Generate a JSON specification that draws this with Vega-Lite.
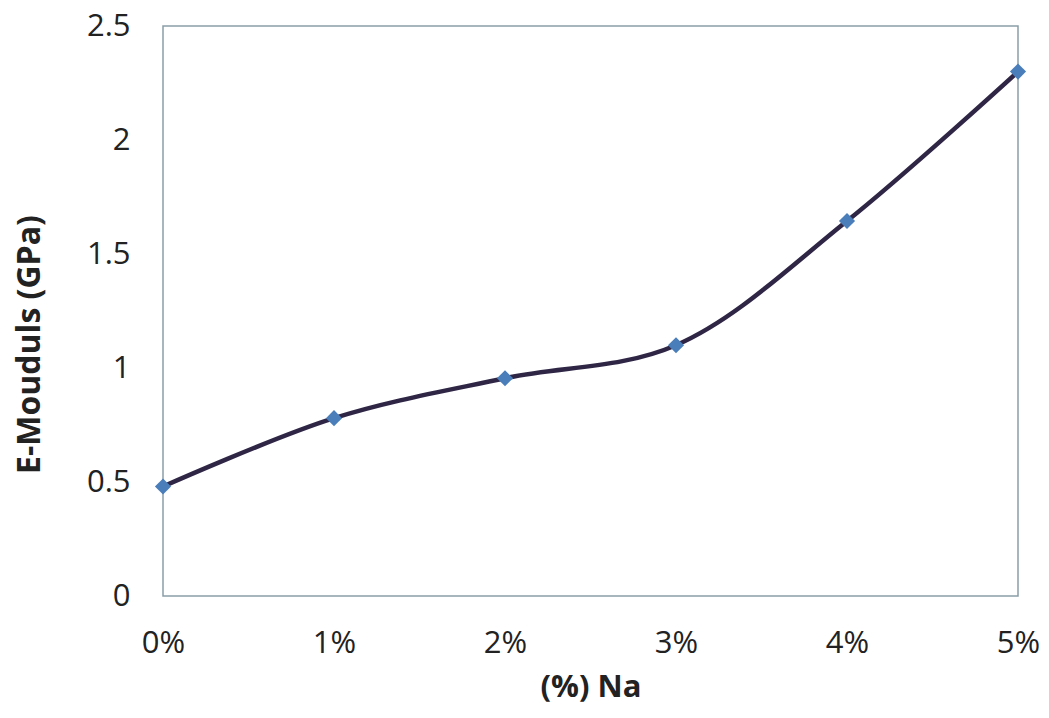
{
  "$schema": "https://vega.github.io/schema/vega-lite/v6.json",
  "width": 855,
  "height": 570,
  "autosize": {"type": "none"},
  "padding": {"left": 163, "top": 26, "right": 31, "bottom": 122},
  "background": "white",
  "config": {
    "font": "Open Sans",
    "view": {"stroke": "#8a9ea6", "strokeWidth": 1.5},
    "axis": {
      "grid": false,
      "ticks": false,
      "domain": false,
      "labelFont": "Open Sans",
      "labelFontSize": 31,
      "labelColor": "#222222",
      "titleFont": "Open Sans",
      "titleFontSize": 31,
      "titleFontWeight": "bold",
      "titleColor": "#222222"
    }
  },
  "data": {
    "values": [
      {"Na": "0%", "modulus": 0.48},
      {"Na": "1%", "modulus": 0.78},
      {"Na": "2%", "modulus": 0.955},
      {"Na": "3%", "modulus": 1.10},
      {"Na": "4%", "modulus": 1.645},
      {"Na": "5%", "modulus": 2.30}
    ]
  },
  "encoding": {
    "x": {
      "field": "Na",
      "type": "ordinal",
      "sort": null,
      "scale": {"type": "point", "padding": 0},
      "axis": {"title": "(%) Na", "labelAngle": 0, "labelPadding": 32, "titlePadding": 14}
    },
    "y": {
      "field": "modulus",
      "type": "quantitative",
      "scale": {"domain": [0, 2.5], "nice": false},
      "axis": {"title": "E-Mouduls (GPa)", "values": [0, 0.5, 1, 1.5, 2, 2.5], "format": "~g", "labelPadding": 33, "titlePadding": 40, "titleFontSize": 32, "titleY": 318}
    }
  },
  "layer": [
    {
      "mark": {"type": "line", "interpolate": "catmull-rom", "color": "#2f2646", "strokeWidth": 4.5}
    },
    {
      "mark": {"type": "point", "shape": "diamond", "filled": true, "opacity": 1, "color": "#4a7ebb", "size": 260}
    }
  ]
}
